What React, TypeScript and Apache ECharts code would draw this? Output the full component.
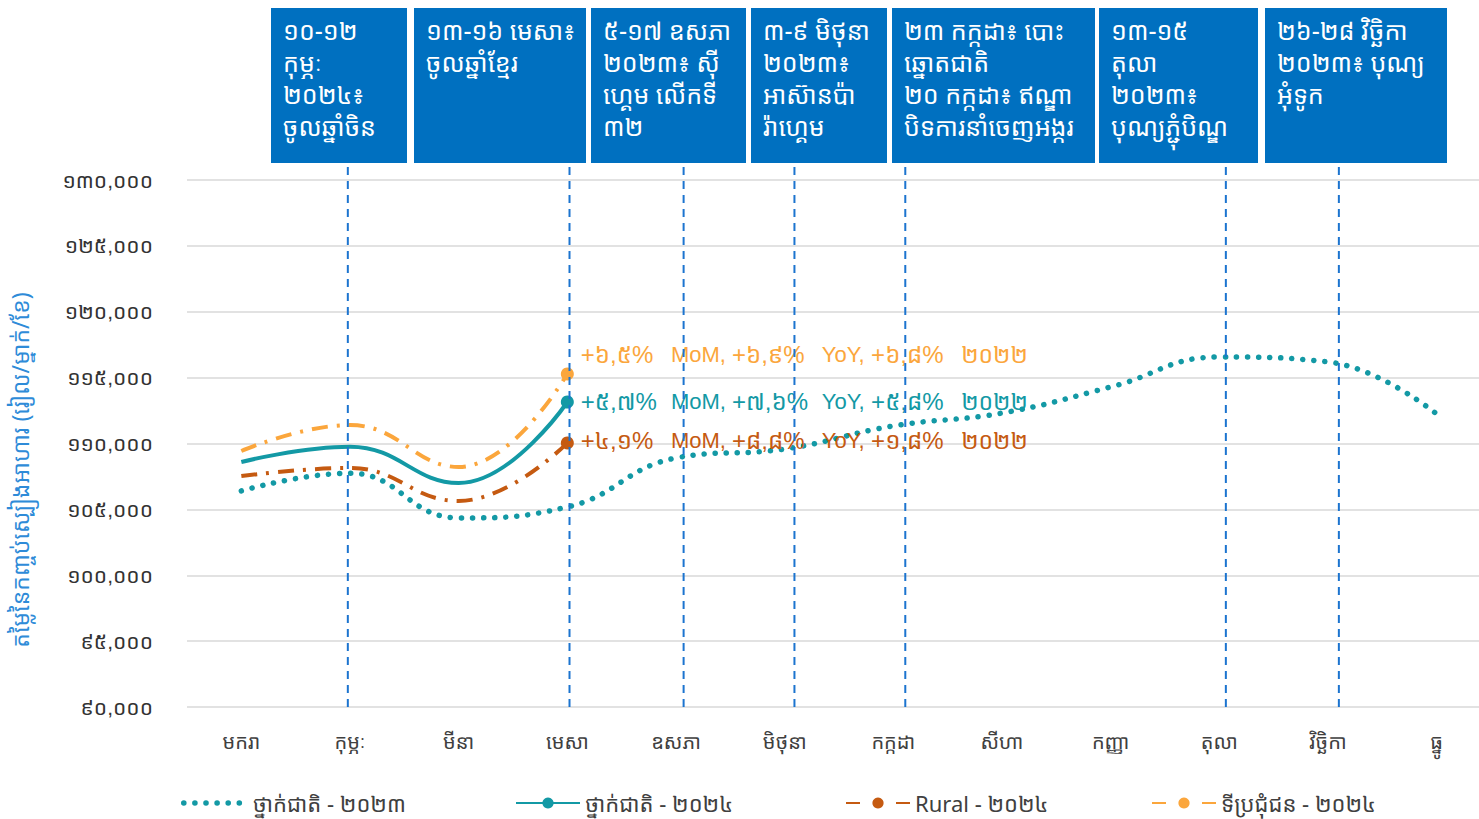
import React, { useEffect, useRef } from 'react';
import * as echarts from 'echarts';

// ---------- data ----------
const months = ['មករា', 'កុម្ភៈ', 'មីនា', 'មេសា', 'ឧសភា', 'មិថុនា', 'កក្កដា', 'សីហា', 'កញ្ញា', 'តុលា', 'វិច្ឆិកា', 'ធ្នូ'];
const national2023 = [106400, 107750, 104350, 105180, 108900, 109580, 111330, 112310, 114290, 116570, 116190, 112240];
const national2024 = [108600, 109750, 107000, 113150];
const rural2024 = [107530, 108140, 105640, 110040];
const urban2024 = [109430, 111400, 108220, 115280];
const seriesNames = ['ថ្នាក់ជាតិ - ២០២៣', 'ថ្នាក់ជាតិ - ២០២៤', 'Rural - ២០២៤', 'ទីប្រជុំជន - ២០២៤'];
// [MoM, YoY, vs 2022]
const nationalChange = ['+៥,៧%', '+៧,៦%', '+៥,៨%'];
const ruralChange = ['+៤,១%', '+៨,៨%', '+១,៨%'];
const urbanChange = ['+៦,៥%', '+៦,៩%', '+៦,៨%'];
const changeTerms = ['MoM,', 'YoY,', '២០២២'];
const yMin = 90000;
const yMax = 130000;
const yInterval = 5000;
const yAxisTitle = 'តម្លៃនៃកញ្ចប់ស្បៀងអាហារ (រៀល/ម្នាក់/ខែ)';
const khmerDigits = ['០', '១', '២', '៣', '៤', '៥', '៦', '៧', '៨', '៩'];
// event markers (month index position) and their texts
const eventPositions = [0.98, 3.02, 4.07, 5.09, 6.11, 9.06, 10.1];
const eventTexts = [
  ['១០-១២', 'កុម្ភៈ', '២០២៤៖', 'ចូលឆ្នាំចិន'],
  ['១៣-១៦ មេសា៖', 'ចូលឆ្នាំខ្មែរ'],
  ['៥-១៧ ឧសភា', '២០២៣៖ ស៊ី', 'ហ្គេម លើកទី', '៣២'],
  ['៣-៩ មិថុនា', '២០២៣៖', 'អាស៊ានប៉ា', 'រ៉ាហ្គេម'],
  ['២៣ កក្កដា៖ បោះ', 'ឆ្នោតជាតិ', '២០ កក្កដា៖ ឥណ្ឌា', 'បិទការនាំចេញអង្ករ'],
  ['១៣-១៥', 'តុលា', '២០២៣៖', 'បុណ្យភ្ជុំបិណ្ឌ'],
  ['២៦-២៨ វិច្ឆិកា', '២០២៣៖ បុណ្យ', 'អុំទូក'],
];

// ---------- layout / style ----------
const boxLayout = [
  [271, 136], [414, 172], [591, 155], [751, 136], [892, 203], [1099, 159], [1265, 182],
];
const BOX_TOP = 8;
const BOX_H = 155;
const KH_FONT = "'Noto Sans Khmer', 'Noto Serif Khmer', 'Khmer OS', 'Khmer OS System', 'Hanuman', sans-serif";
const LAT_FONT = "Arial, 'Liberation Sans', 'Noto Sans Khmer', 'Noto Serif Khmer', sans-serif";
const TEAL = '#1399A5';
const RUST = '#C55A11';
const ORANGE = '#FBA63C';
const BLUE = '#0070C0';

const toKhmer = (s: string) => s.replace(/[0-9]/g, (d) => khmerDigits[Number(d)]);

function changeText(parts: string[]) {
  return (
    `{k|${parts[0]}}{l| ${changeTerms[0]} }` +
    `{k|${parts[1]}}{l| ${changeTerms[1]} }` +
    `{k|${parts[2]}}{l| }{y|${changeTerms[2]}}`
  );
}

function markLast(values: number[], color: string, parts: string[], offset: number[]) {
  return values.map((v, i) =>
    i === values.length - 1
      ? {
          value: v,
          symbol: 'circle',
          symbolSize: 13,
          label: {
            show: true,
            position: 'right',
            distance: 7,
            offset,
            formatter: changeText(parts),
            color,
            fontSize: 22,
            fontFamily: LAT_FONT,
            rich: {
              k: { color, fontSize: 24, fontFamily: LAT_FONT, width: 84 },
              l: { color, fontSize: 22, fontFamily: LAT_FONT },
              y: { color, fontSize: 23, fontFamily: LAT_FONT },
            },
          },
        }
      : { value: v, symbol: 'none' }
  );
}

export default function App() {
  const ref = useRef<HTMLDivElement>(null);
  useEffect(() => {
    if (!ref.current) return;
    const chart = echarts.init(ref.current, null, { renderer: 'svg' });

    const graphics: any[] = [];
    boxLayout.forEach(([x, w], i) => {
      graphics.push({
        type: 'rect',
        shape: { x, y: BOX_TOP, width: w, height: BOX_H },
        style: { fill: BLUE },
        z: 100,
      });
      graphics.push({
        type: 'text',
        x: x + 12,
        y: BOX_TOP + 6,
        z: 101,
        style: {
          text: eventTexts[i].join('\n'),
          fill: '#ffffff',
          font: `25px ${KH_FONT}`,
          lineHeight: 32,
          verticalAlign: 'top',
        },
      });
    });
    graphics.push({
      type: 'text',
      x: 20,
      y: 470,
      rotation: Math.PI / 2,
      style: {
        text: yAxisTitle,
        fill: '#2E8BD8',
        font: `23px ${KH_FONT}`,
        align: 'center',
        verticalAlign: 'middle',
      },
    });

    const legendBase = {
      top: 787,
      itemWidth: 64,
      itemHeight: 14,
      textStyle: { color: '#404040', fontSize: 22, fontFamily: KH_FONT },
    };

    const option: any = {
      animation: false,
      backgroundColor: '#ffffff',
      grid: {
        left: 187,
        width: 1304,
        top: 180,
        bottom: 112,
        containLabel: false,
        outerBoundsMode: 'none',
      },
      legend: [
        {
          ...legendBase,
          left: 176,
          data: [
            {
              name: seriesNames[0],
              itemStyle: { color: 'rgba(0,0,0,0)', borderColor: 'rgba(0,0,0,0)', opacity: 0 },
              lineStyle: { width: 5.5, type: [0.1, 11], cap: 'round' },
            },
          ],
        },
        { ...legendBase, left: 510, data: [seriesNames[1]] },
        {
          ...legendBase,
          left: 840,
          data: [{ name: seriesNames[2], lineStyle: { type: [14, 36] } }],
        },
        {
          ...legendBase,
          left: 1146,
          data: [{ name: seriesNames[3], lineStyle: { type: [14, 36] } }],
        },
      ],
      xAxis: [
        {
          type: 'category',
          data: months,
          boundaryGap: true,
          axisLine: { show: false },
          axisTick: { show: false },
          axisLabel: { color: '#404040', fontSize: 20, margin: 24, fontFamily: KH_FONT, interval: 0 },
        },
        { type: 'value', min: -0.5, max: 11.5, show: false },
      ],
      yAxis: {
        type: 'value',
        min: yMin,
        max: yMax,
        interval: yInterval,
        axisLine: { show: false },
        axisTick: { show: false },
        splitLine: { lineStyle: { color: '#D9D9D9', width: 1.5 } },
        axisLabel: {
          color: '#333333',
          fontSize: 21,
          margin: 34,
          fontFamily: LAT_FONT,
          formatter: (v: number) => toKhmer(v.toLocaleString('en-US')),
        },
      },
      series: [
        {
          name: seriesNames[0],
          type: 'line',
          data: national2023,
          smooth: 0.45,
          symbol: 'none',
          color: TEAL,
          lineStyle: { color: TEAL, width: 5.5, type: [0.1, 11], cap: 'round' },
          z: 3,
        },
        {
          name: seriesNames[1],
          type: 'line',
          data: markLast(national2024, TEAL, nationalChange, [0, 0]),
          smooth: 0.45,
          symbol: 'circle',
          symbolSize: 12,
          showAllSymbol: true,
          color: TEAL,
          lineStyle: { color: TEAL, width: 4 },
          z: 4,
        },
        {
          name: seriesNames[2],
          type: 'line',
          data: markLast(rural2024, RUST, ruralChange, [0, -2]),
          smooth: 0.45,
          symbol: 'circle',
          symbolSize: 12,
          showAllSymbol: true,
          color: RUST,
          lineStyle: { color: RUST, width: 4, type: [16, 9, 3, 9] },
          z: 4,
        },
        {
          name: seriesNames[3],
          type: 'line',
          data: markLast(urban2024, ORANGE, urbanChange, [0, -19]),
          smooth: 0.45,
          symbol: 'circle',
          symbolSize: 12,
          showAllSymbol: true,
          color: ORANGE,
          lineStyle: { color: ORANGE, width: 4, type: [16, 9, 3, 9] },
          z: 4,
        },
        {
          type: 'custom',
          xAxisIndex: 1,
          yAxisIndex: 0,
          silent: true,
          z: 5,
          data: eventPositions.map((p) => [p]),
          encode: { x: 0 },
          renderItem: (_params: any, api: any) => {
            const bottom = api.coord([api.value(0), yMin]);
            const top = api.coord([api.value(0), yMax]);
            return {
              type: 'line',
              shape: { x1: bottom[0], y1: bottom[1], x2: bottom[0], y2: top[1] - 17 },
              style: { stroke: '#1C74CF', lineWidth: 2, lineDash: [8, 6] },
            };
          },
        },
      ],
      graphic: graphics,
    };
    chart.setOption(option);
    return () => chart.dispose();
  }, []);
  return <div ref={ref} style={{ position: 'absolute', left: 0, top: 0, width: 1479, height: 819 }} />;
}
